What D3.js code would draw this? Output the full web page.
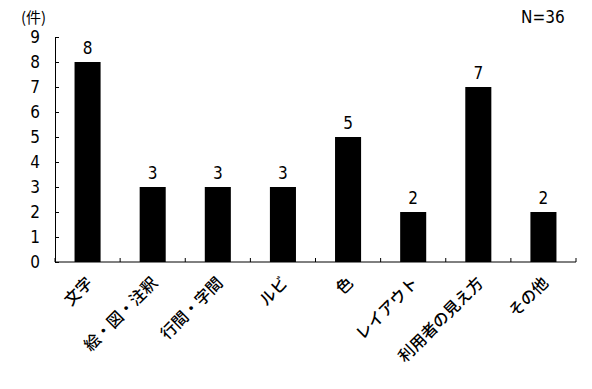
<!DOCTYPE html>
<html>
<head>
<meta charset="utf-8">
<script src="https://cdn.jsdelivr.net/npm/d3@7"></script>
<style>
  body { margin: 0; background: #fff; }
  text { font-family: "Liberation Sans Narrow", "DejaVu Sans Condensed", "Noto Sans CJK JP", sans-serif; fill: #000; }
  .jp { font-family: "Noto Sans CJK JP", sans-serif; }
</style>
</head>
<body>
<svg id="chart" width="592" height="389"></svg>
<script>
// 件数 by category
var categories = ["文字", "絵・図・注釈", "行間・字間", "ルビ", "色", "レイアウト", "利用者の見え方", "その他"]
var counts = [8, 3, 3, 3, 5, 2, 7, 2]
var yTicks = [0, 1, 2, 3, 4, 5, 6, 7, 8, 9]

function draw() {
  var svg = d3.select("#chart")
  var mLeft = 55, mRight = 576, mTop = 37, mBottom = 262

  var x = d3.scaleBand().domain(categories).range([mLeft, mRight]).paddingInner(0.6).paddingOuter(0.3)
  var y = d3.scaleLinear().domain([0, 9]).range([mBottom, mTop])

  // y axis, ticks pointing inward
  var yAxis = svg.append("g")
    .attr("transform", "translate(" + mLeft + ",0)")
    .call(d3.axisLeft(y).tickValues(yTicks).tickSizeInner(-4).tickSizeOuter(0).tickPadding(15))
  yAxis.select(".domain").attr("stroke", "#000")
  yAxis.selectAll("line").attr("stroke", "#000")
  yAxis.selectAll("text").attr("font-size", 17).attr("fill", "#000")
    .style("font-family", "'Liberation Sans Narrow', 'DejaVu Sans Condensed', sans-serif")

  // x axis: line plus ticks at category boundaries
  svg.append("line")
    .attr("x1", mLeft).attr("x2", mRight)
    .attr("y1", mBottom).attr("y2", mBottom)
    .attr("stroke", "#000")
  var bounds = d3.range(categories.length + 1).map(function(i) { return mLeft + i * (mRight - mLeft) / categories.length })
  svg.append("g").selectAll("line").data(bounds).enter().append("line")
    .attr("x1", function(d) { return d }).attr("x2", function(d) { return d })
    .attr("y1", mBottom).attr("y2", mBottom - 4)
    .attr("stroke", "#000")

  svg.selectAll("rect.bar").data(categories).enter().append("rect")
    .attr("class", "bar")
    .attr("x", function(d) { return x(d) })
    .attr("width", x.bandwidth())
    .attr("y", function(d, i) { return y(counts[i]) })
    .attr("height", function(d, i) { return mBottom - y(counts[i]) })
    .attr("fill", "#000")

  svg.selectAll("text.val").data(categories).enter().append("text")
    .attr("class", "val")
    .attr("x", function(d) { return x(d) + x.bandwidth() / 2 })
    .attr("y", function(d, i) { return y(counts[i]) - 8 })
    .attr("text-anchor", "middle")
    .attr("font-size", 17)
    .text(function(d, i) { return counts[i] })

  svg.selectAll("text.cat").data(categories).enter().append("text")
    .attr("class", "cat jp")
    .attr("transform", function(d) {
      var cx = x(d) + x.bandwidth() / 2 + 6
      return "translate(" + cx + "," + (mBottom + 22) + ") rotate(-45)"
    })
    .attr("text-anchor", "end")
    .attr("font-size", 16)
    .attr("font-weight", 500)
    .text(function(d) { return d })

  svg.append("text").attr("class", "jp").attr("x", 21).attr("y", 23).attr("font-size", 15).text("(件)")
  svg.append("text").attr("x", 521).attr("y", 23).attr("font-size", 17).text("N=36")
}
draw()
</script>
</body>
</html>
